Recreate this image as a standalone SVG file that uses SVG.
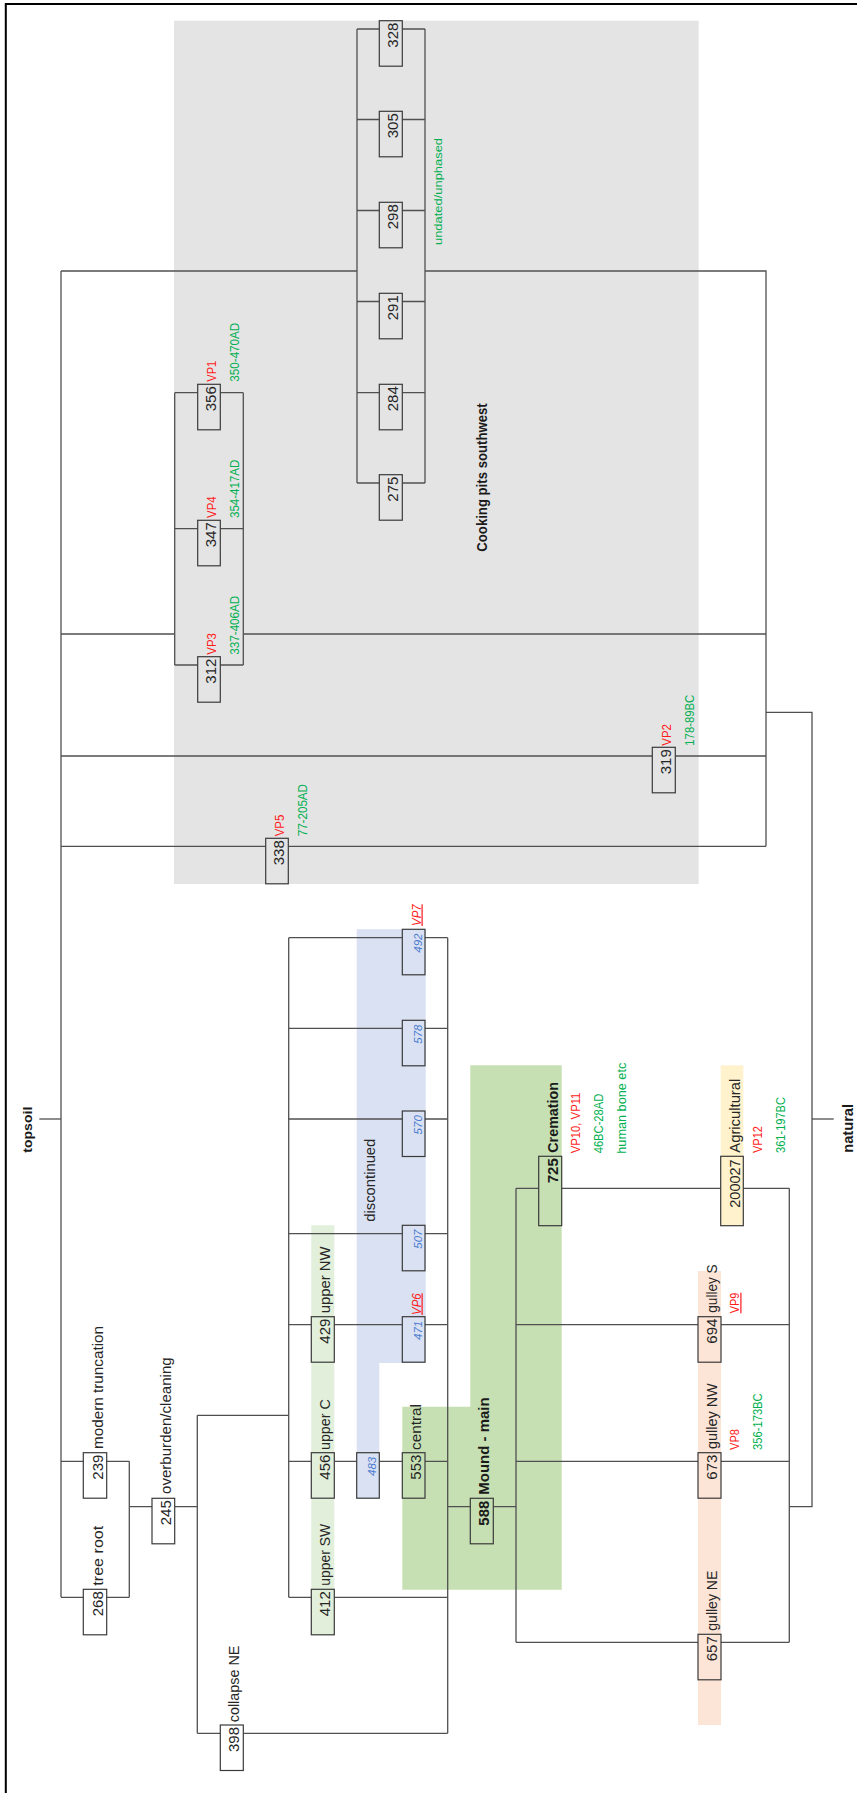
<svg xmlns="http://www.w3.org/2000/svg" width="857" height="1793" viewBox="0 0 857 1793">
<style>
text{font-family:"Liberation Sans",Arial,sans-serif;}
.n{font-size:15px;fill:#262626}
.nb{font-size:15px;font-weight:bold;fill:#1a1a1a}
.l{font-size:14px;fill:#262626}
.lb{font-size:14.5px;font-weight:bold;fill:#1a1a1a}
.r{font-size:12px;fill:#ff1a1a}
.g{font-size:12px;fill:#00b050}
.i{font-size:11.5px;font-style:italic;fill:#4a7bd0}
.ri{font-size:12px;font-style:italic;fill:#ff1a1a;text-decoration:underline}
.ru{text-decoration:underline}
.bx{stroke:#3a3a3a;stroke-width:1.2}
.w{fill:#ffffff}.gy{fill:#e4e4e4}.bl{fill:#d9e1f2}.lg{fill:#e2efda}.mg{fill:#c6e0b4}.yl{fill:#fff2cc}.pc{fill:#fce4d6}
#connectors path{fill:none;stroke:#505050;stroke-width:1.3}
</style>
<rect width="857" height="1793" fill="#ffffff"/>
<g id="frame" stroke="#000" stroke-width="2" fill="none">
<path d="M5.8,1793 V4 H857"/>
</g>
<g id="regions">
<rect x="174" y="20.7" width="524.7" height="863.3" fill="#e4e4e4"/>
<path d="M356.7,929.3 H425.7 V1363 H379.3 V1498.3 H356.7 Z" fill="#d9e1f2"/>
<rect x="311.3" y="1225.3" width="23" height="409.4" fill="#e2efda"/>
<path d="M470.3,1065.3 H561.7 V1589.7 H402.3 V1406.7 H470.3 Z" fill="#c6e0b4"/>
<rect x="720.7" y="1065.3" width="22.6" height="160.4" fill="#fff2cc"/>
<rect x="698" y="1271" width="23" height="454" fill="#fce4d6"/>
</g>
<g id="connectors">
<path d="M61,271 V1597.3"/>
<path d="M61,271 H357 M425,271 H766 V846.3"/>
<path d="M357,29 V483 M425,29 V483"/>
<path d="M357,29 H379.3 M402.3,29 H425 M357,119.5 H379.3 M402.3,119.5 H425 M357,210.5 H379.3 M402.3,210.5 H425 M357,301.5 H379.3 M402.3,301.5 H425 M357,392.7 H379.3 M402.3,392.7 H425 M357,483 H379.3 M402.3,483 H425"/>
<path d="M61,634 H174.7 M243.3,634 H766"/>
<path d="M174.7,392.7 V665 M243.3,392.7 V665"/>
<path d="M174.7,392.7 H197.7 M220.3,392.7 H243.3 M174.7,528.7 H197.7 M220.3,528.7 H243.3 M174.7,665 H197.7 M220.3,665 H243.3"/>
<path d="M61,756 H652.3 M675.3,756 H766"/>
<path d="M61,846.3 H265.7 M288.3,846.3 H766"/>
<path d="M766,712.3 H812 V1506.7 H789.3"/>
<path d="M812,1119 H833.7"/>
<path d="M39.3,1119 H61"/>
<path d="M61,1461.3 H83.3 M106.7,1461.3 H129.3 M61,1597.3 H83.3 M106.7,1597.3 H129.3 M129.3,1461.3 V1597.3"/>
<path d="M129.3,1506.7 H152 M174.7,1506.7 H197.3 M197.3,1415.3 V1733.3 M197.3,1415.3 H288.7"/>
<path d="M197.3,1733.3 H220.3 M243.3,1733.3 H447.7"/>
<path d="M288.7,937.7 V1597.3 M447.7,937.7 V1733.3"/>
<path d="M288.7,937.7 H402.3 M425,937.7 H447.7 M288.7,1028.3 H402.3 M425,1028.3 H447.7 M288.7,1119 H402.3 M425,1119 H447.7 M288.7,1233.7 H402.3 M425,1233.7 H447.7"/>
<path d="M288.7,1324.7 H311.3 M334.3,1324.7 H402.3 M425,1324.7 H447.7"/>
<path d="M288.7,1461.3 H311.3 M334.3,1461.3 H356.7 M379.3,1461.3 H402.3 M425,1461.3 H447.7"/>
<path d="M288.7,1597.3 H311.3 M334.3,1597.3 H447.7"/>
<path d="M447.7,1506.7 H470.3 M493.3,1506.7 H516 M516,1188.3 V1642.3 M789.3,1188.3 V1642.3"/>
<path d="M516,1188.3 H538.7 M561.7,1188.3 H720.7 M743.3,1188.3 H789.3"/>
<path d="M516,1324.7 H698 M721,1324.7 H789.3 M516,1461.3 H698 M721,1461.3 H789.3 M516,1642.3 H698 M721,1642.3 H789.3"/>
</g>
<g id="cooking-pits-label">
<text class="lb" transform="translate(486.5,551.7) rotate(-90)" font-size="11.5" textLength="148.4" lengthAdjust="spacingAndGlyphs">Cooking pits southwest</text>
<text class="g" transform="translate(441.5,245) rotate(-90)" style="font-size:10.5px" textLength="107" lengthAdjust="spacingAndGlyphs">undated/unphased</text>
</g>
<g id="n328"><rect class="bx gy" x="379.3" y="20.7" width="23" height="45.5"/><text class="n" transform="translate(398.3,47.7) rotate(-90)">328</text></g>
<g id="n305"><rect class="bx gy" x="379.3" y="111.3" width="23" height="45.5"/><text class="n" transform="translate(398.3,138.3) rotate(-90)">305</text></g>
<g id="n298"><rect class="bx gy" x="379.3" y="202.3" width="23" height="45.5"/><text class="n" transform="translate(398.3,229.3) rotate(-90)">298</text></g>
<g id="n291"><rect class="bx gy" x="379.3" y="293.3" width="23" height="45.5"/><text class="n" transform="translate(398.3,320.3) rotate(-90)">291</text></g>
<g id="n284"><rect class="bx gy" x="379.3" y="384.3" width="23" height="45.5"/><text class="n" transform="translate(398.3,411.3) rotate(-90)">284</text></g>
<g id="n275"><rect class="bx gy" x="379.3" y="474.7" width="23" height="45.5"/><text class="n" transform="translate(398.3,501.7) rotate(-90)">275</text></g>
<g id="n356"><rect class="bx gy" x="197.7" y="384.3" width="22.6" height="45.5"/><text class="n" transform="translate(216.3,411.3) rotate(-90)">356</text>
<text class="r" transform="translate(216.3,381.7) rotate(-90)" textLength="21" lengthAdjust="spacingAndGlyphs">VP1</text>
<text class="g" transform="translate(238.7,381.7) rotate(-90)" textLength="59" lengthAdjust="spacingAndGlyphs">350-470AD</text></g>
<g id="n347"><rect class="bx gy" x="197.7" y="520.3" width="22.6" height="45.5"/><text class="n" transform="translate(216.3,547.3) rotate(-90)">347</text>
<text class="r" transform="translate(216.3,518) rotate(-90)" textLength="21.7" lengthAdjust="spacingAndGlyphs">VP4</text>
<text class="g" transform="translate(238.7,518) rotate(-90)" textLength="58.3" lengthAdjust="spacingAndGlyphs">354-417AD</text></g>
<g id="n312"><rect class="bx gy" x="197.7" y="656.7" width="22.6" height="45.5"/><text class="n" transform="translate(216.3,683.7) rotate(-90)">312</text>
<text class="r" transform="translate(216.3,654.7) rotate(-90)" textLength="21.7" lengthAdjust="spacingAndGlyphs">VP3</text>
<text class="g" transform="translate(238.7,654.7) rotate(-90)" textLength="59" lengthAdjust="spacingAndGlyphs">337-406AD</text></g>
<g id="n338"><rect class="bx gy" x="265.7" y="838.3" width="22.6" height="45.5"/><text class="n" transform="translate(284.3,865.3) rotate(-90)">338</text>
<text class="r" transform="translate(284.3,836.3) rotate(-90)" textLength="21.6" lengthAdjust="spacingAndGlyphs">VP5</text>
<text class="g" transform="translate(306.7,836.3) rotate(-90)" textLength="52.3" lengthAdjust="spacingAndGlyphs">77-205AD</text></g>
<g id="n319"><rect class="bx gy" x="652.3" y="747.3" width="23" height="45.5"/><text class="n" transform="translate(671.3,774.3) rotate(-90)">319</text>
<text class="r" transform="translate(671.3,745.7) rotate(-90)" textLength="21.7" lengthAdjust="spacingAndGlyphs">VP2</text>
<text class="g" transform="translate(693.7,745.7) rotate(-90)" textLength="51" lengthAdjust="spacingAndGlyphs">178-89BC</text></g>
<g id="n492"><rect class="bx bl" x="402.3" y="929.3" width="22.7" height="45.5"/><text class="i" transform="translate(421.5,952.7) rotate(-90)">492</text>
<text class="ri" transform="translate(420.5,926) rotate(-90)" textLength="21.7" lengthAdjust="spacingAndGlyphs">VP7</text></g>
<g id="n578"><rect class="bx bl" x="402.3" y="1020.3" width="22.7" height="45.5"/><text class="i" transform="translate(421.5,1043.7) rotate(-90)">578</text></g>
<g id="n570"><rect class="bx bl" x="402.3" y="1111" width="22.7" height="45.5"/><text class="i" transform="translate(421.5,1134.4) rotate(-90)">570</text></g>
<g id="n507"><rect class="bx bl" x="402.3" y="1225.3" width="22.7" height="45.5"/><text class="i" transform="translate(421.5,1248.7) rotate(-90)">507</text></g>
<g id="n471"><rect class="bx bl" x="402.3" y="1316.7" width="22.7" height="45.5"/><text class="i" transform="translate(421.5,1340) rotate(-90)">471</text>
<text class="ri" transform="translate(420.5,1315) rotate(-90)" textLength="21.7" lengthAdjust="spacingAndGlyphs">VP6</text></g>
<g id="discontinued-label"><text class="l" transform="translate(375,1221.7) rotate(-90)" textLength="83" lengthAdjust="spacingAndGlyphs">discontinued</text></g>
<g id="n483"><rect class="bx bl" x="356.7" y="1452.7" width="22.6" height="45.5"/><text class="i" transform="translate(375.7,1476) rotate(-90)">483</text></g>
<g id="n553"><rect class="bx mg" x="402.3" y="1452.7" width="22.7" height="45.5"/><text class="n" transform="translate(421.3,1479.7) rotate(-90)">553</text>
<text class="l" transform="translate(421.3,1450) rotate(-90)" textLength="46" lengthAdjust="spacingAndGlyphs">central</text></g>
<g id="n429"><rect class="bx lg" x="311.3" y="1316.7" width="23" height="45.5"/><text class="n" transform="translate(330.3,1343.7) rotate(-90)">429</text>
<text class="l" transform="translate(330.3,1313.3) rotate(-90)" textLength="66.7" lengthAdjust="spacingAndGlyphs">upper NW</text></g>
<g id="n456"><rect class="bx lg" x="311.3" y="1452.7" width="23" height="45.5"/><text class="n" transform="translate(330.3,1479.7) rotate(-90)">456</text>
<text class="l" transform="translate(330.3,1450) rotate(-90)" textLength="50.7" lengthAdjust="spacingAndGlyphs">upper C</text></g>
<g id="n412"><rect class="bx lg" x="311.3" y="1589.3" width="23" height="45.5"/><text class="n" transform="translate(330.3,1616.3) rotate(-90)">412</text>
<text class="l" transform="translate(330.3,1585.7) rotate(-90)" textLength="61.7" lengthAdjust="spacingAndGlyphs">upper SW</text></g>
<g id="n239"><rect class="bx w" x="83.3" y="1452.7" width="23.4" height="45.5"/><text class="n" transform="translate(102.5,1479.7) rotate(-90)">239</text>
<text class="l" transform="translate(102.5,1449) rotate(-90)" textLength="123" lengthAdjust="spacingAndGlyphs">modern truncation</text></g>
<g id="n268"><rect class="bx w" x="83.3" y="1589.3" width="23.4" height="45.5"/><text class="n" transform="translate(102.5,1616.3) rotate(-90)">268</text>
<text class="l" transform="translate(102.5,1585.7) rotate(-90)" textLength="60" lengthAdjust="spacingAndGlyphs">tree root</text></g>
<g id="n245"><rect class="bx w" x="152" y="1498.3" width="22.7" height="45.5"/><text class="n" transform="translate(171,1525.3) rotate(-90)">245</text>
<text class="l" transform="translate(171,1494) rotate(-90)" textLength="136.7" lengthAdjust="spacingAndGlyphs">overburden/cleaning</text></g>
<g id="n398"><rect class="bx w" x="220.3" y="1725" width="23" height="45.5"/><text class="n" transform="translate(239.3,1752) rotate(-90)">398</text>
<text class="l" transform="translate(239.3,1722.3) rotate(-90)" textLength="76.7" lengthAdjust="spacingAndGlyphs">collapse NE</text></g>
<g id="n588"><rect class="bx mg" x="470.3" y="1498.3" width="23" height="45.5"/><text class="nb" transform="translate(489.3,1525.7) rotate(-90)">588</text>
<text class="lb" transform="translate(489.3,1494.7) rotate(-90)" textLength="97.4" lengthAdjust="spacingAndGlyphs">Mound - main</text></g>
<g id="n725"><rect class="bx mg" x="538.7" y="1156.3" width="23" height="69.4"/><text class="nb" transform="translate(558.3,1183.3) rotate(-90)">725</text>
<text class="lb" transform="translate(558.3,1152.7) rotate(-90)" textLength="70.7" lengthAdjust="spacingAndGlyphs">Cremation</text>
<text class="r" transform="translate(580,1153.3) rotate(-90)" textLength="60.7" lengthAdjust="spacingAndGlyphs">VP10, VP11</text>
<text class="g" transform="translate(602.7,1153.3) rotate(-90)" textLength="59.6" lengthAdjust="spacingAndGlyphs">46BC-28AD</text>
<text class="g" transform="translate(625.7,1153.7) rotate(-90)" textLength="91" lengthAdjust="spacingAndGlyphs">human bone etc</text></g>
<g id="n200027"><rect class="bx yl" x="720.7" y="1156.3" width="22.6" height="69.4"/><text class="n" transform="translate(740,1207.7) rotate(-90)" textLength="48.3" lengthAdjust="spacingAndGlyphs">200027</text>
<text class="l" transform="translate(740,1152.7) rotate(-90)" textLength="74" lengthAdjust="spacingAndGlyphs">Agricultural</text>
<text class="r" transform="translate(762,1153) rotate(-90)" textLength="27" lengthAdjust="spacingAndGlyphs">VP12</text>
<text class="g" transform="translate(784.7,1153) rotate(-90)" textLength="56" lengthAdjust="spacingAndGlyphs">361-197BC</text></g>
<g id="n694"><rect class="bx pc" x="698" y="1316.7" width="23" height="45.5"/><text class="n" transform="translate(717,1343.7) rotate(-90)">694</text>
<text class="l" transform="translate(717,1312.7) rotate(-90)" textLength="48.4" lengthAdjust="spacingAndGlyphs">gulley S</text>
<text class="r ru" transform="translate(739.3,1313.3) rotate(-90)" textLength="20.6" lengthAdjust="spacingAndGlyphs">VP9</text></g>
<g id="n673"><rect class="bx pc" x="698" y="1452.7" width="23" height="45.5"/><text class="n" transform="translate(717,1479.7) rotate(-90)">673</text>
<text class="l" transform="translate(717,1449) rotate(-90)" textLength="65.7" lengthAdjust="spacingAndGlyphs">gulley NW</text>
<text class="r" transform="translate(739.3,1450) rotate(-90)" textLength="21" lengthAdjust="spacingAndGlyphs">VP8</text>
<text class="g" transform="translate(762,1450) rotate(-90)" textLength="56.7" lengthAdjust="spacingAndGlyphs">356-173BC</text></g>
<g id="n657"><rect class="bx pc" x="698" y="1634.3" width="23" height="45.5"/><text class="n" transform="translate(717,1661.3) rotate(-90)">657</text>
<text class="l" transform="translate(717,1630.7) rotate(-90)" textLength="60" lengthAdjust="spacingAndGlyphs">gulley NE</text></g>
<g id="topsoil"><text class="lb" transform="translate(31.8,1152.7) rotate(-90)" style="font-size:12.5px" textLength="46" lengthAdjust="spacingAndGlyphs">topsoil</text></g>
<g id="natural"><text class="lb" transform="translate(853,1152.7) rotate(-90)" textLength="48.7" lengthAdjust="spacingAndGlyphs">natural</text></g>
</svg>
